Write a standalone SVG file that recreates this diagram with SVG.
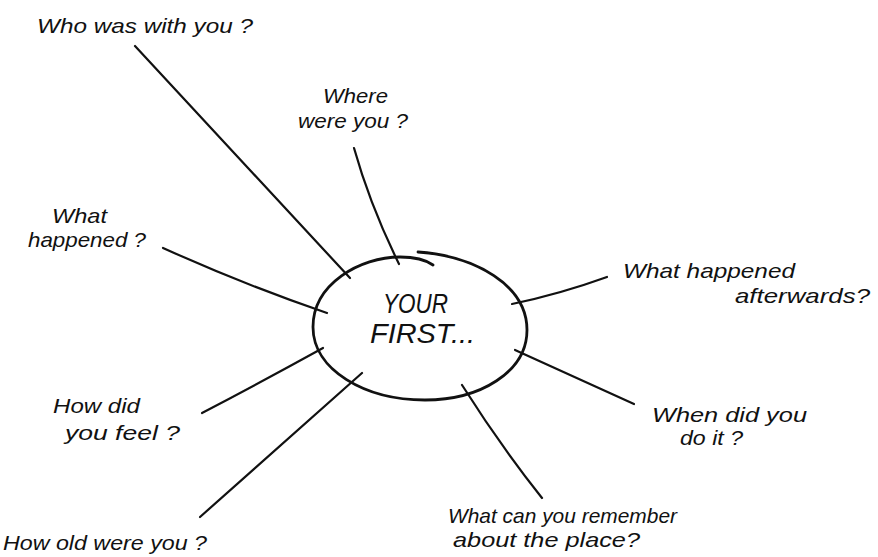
<svg xmlns="http://www.w3.org/2000/svg" width="878" height="557" viewBox="0 0 878 557">
<style>
text{font-family:"Liberation Sans","DejaVu Sans",sans-serif;font-style:italic;fill:#111;font-size:21px}
.c{font-size:27px}
.ln{fill:none;stroke:#111;stroke-width:2.2;stroke-linecap:round;stroke-linejoin:round}
.el{stroke-width:2.8}
</style>
<rect width="878" height="557" fill="#fff"/>
<g id="connectors">
<path class="ln" d="M135,46 L350,278"/>
<path class="ln" d="M354,148 Q370,205 399,264"/>
<path class="ln" d="M163,248 Q245,285 327,313"/>
<path class="ln" d="M202,413 Q265,380 323,348"/>
<path class="ln" d="M200,517 L362,373"/>
<path class="ln" d="M462,385 Q500,445 542,498"/>
<path class="ln" d="M515,350 L634,404"/>
<path class="ln" d="M512,304 Q560,294 607,277"/>
</g>
<g id="center">
<path class="ln el" d="M418,252 C475,256 527,285 527,330 C527,372 480,400 425,400 C365,400 313,370 313,327 C313,284 360,257 400,257 C415,257 426,260 433,265"/>
<text class="c" x="383" y="313" textLength="65" lengthAdjust="spacingAndGlyphs">YOUR</text>
<text class="c" x="370" y="343" textLength="105" lengthAdjust="spacingAndGlyphs">FIRST...</text>
</g>
<g id="who"><text x="37" y="33" textLength="216" lengthAdjust="spacingAndGlyphs">Who was with you ?</text></g>
<g id="where"><text x="323" y="103" textLength="65" lengthAdjust="spacingAndGlyphs">Where</text><text x="298" y="128" textLength="110" lengthAdjust="spacingAndGlyphs">were you ?</text></g>
<g id="what"><text x="52" y="223" textLength="55" lengthAdjust="spacingAndGlyphs">What</text><text x="28" y="247" textLength="118" lengthAdjust="spacingAndGlyphs">happened ?</text></g>
<g id="after"><text x="623" y="278" textLength="172" lengthAdjust="spacingAndGlyphs">What happened</text><text x="735" y="303" textLength="135" lengthAdjust="spacingAndGlyphs">afterwards?</text></g>
<g id="when"><text x="652" y="422" textLength="155" lengthAdjust="spacingAndGlyphs">When did you</text><text x="680" y="445" textLength="63" lengthAdjust="spacingAndGlyphs">do it ?</text></g>
<g id="remember"><text x="448" y="523" textLength="229" lengthAdjust="spacingAndGlyphs">What can you remember</text><text x="453" y="547" textLength="187" lengthAdjust="spacingAndGlyphs">about the place?</text></g>
<g id="feel"><text x="53" y="413" textLength="87" lengthAdjust="spacingAndGlyphs">How did</text><text x="65" y="440" textLength="115" lengthAdjust="spacingAndGlyphs">you feel ?</text></g>
<g id="old"><text x="3" y="550" textLength="204" lengthAdjust="spacingAndGlyphs">How old were you ?</text></g>
</svg>
